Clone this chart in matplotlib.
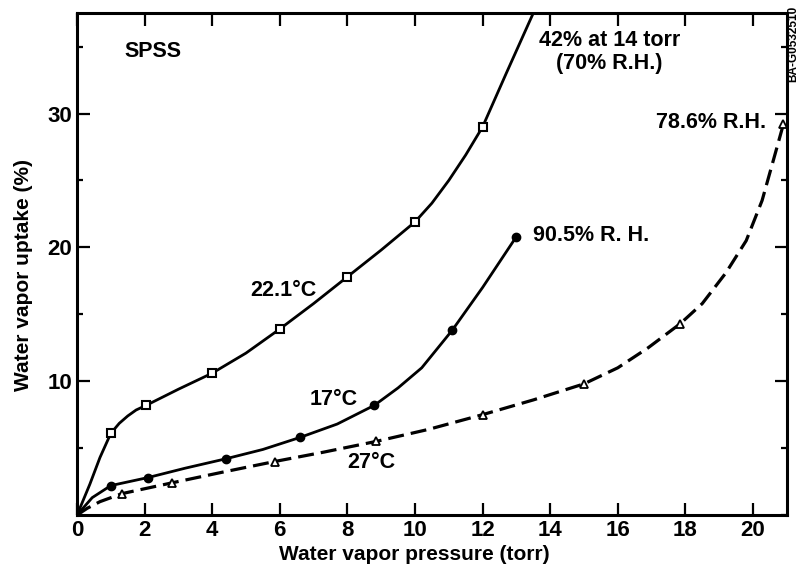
import matplotlib
matplotlib.use("Agg")
import matplotlib.pyplot as plt
from matplotlib.ticker import MultipleLocator

plt.rcParams["font.family"] = ["Liberation Sans", "DejaVu Sans"]
plt.rcParams["font.weight"] = "bold"
plt.rcParams["axes.labelweight"] = "bold"

# 22.1 C curve and its measured points
x_221 = [0, 0.15, 0.38, 0.68, 1.0, 1.25, 1.5, 1.75, 2.05, 3.0, 4.0, 5.0, 6.0, 7.0, 8.0, 9.0, 10.0, 10.5, 11.0, 11.5, 12.0, 12.7, 13.5]
y_221 = [0, 0.9, 2.3, 4.3, 6.1, 6.85, 7.4, 7.85, 8.2, 9.4, 10.6, 12.1, 13.9, 15.8, 17.8, 19.8, 21.9, 23.3, 25.0, 26.9, 29.0, 33.0, 37.5]
mx_221 = [1.0, 2.05, 4.0, 6.0, 8.0, 10.0, 12.0]
my_221 = [6.1, 8.2, 10.6, 13.9, 17.8, 21.9, 29.0]

# 17 C
x_17 = [0, 0.45, 1.0, 2.1, 3.2, 4.4, 5.5, 6.6, 7.7, 8.8, 9.5, 10.2, 11.1, 12.0, 12.5, 13.0]
y_17 = [0, 1.3, 2.2, 2.8, 3.5, 4.2, 4.9, 5.8, 6.8, 8.2, 9.5, 11.0, 13.8, 17.0, 18.9, 20.8]
mx_17 = [1.0, 2.1, 4.4, 6.6, 8.8, 11.1, 13.0]
my_17 = [2.2, 2.8, 4.2, 5.8, 8.2, 13.8, 20.8]

# 27 C
x_27 = [0, 0.3, 0.68, 1.33, 2.8, 4.3, 5.85, 7.3, 8.85, 10.4, 12.0, 13.5, 15.0, 16.0, 16.9, 17.85, 18.5, 19.2, 19.8, 20.27, 20.68, 20.9]
y_27 = [0, 0.5, 1.0, 1.6, 2.4, 3.2, 4.0, 4.7, 5.5, 6.4, 7.5, 8.6, 9.8, 11.0, 12.5, 14.3, 15.8, 18.1, 20.5, 23.5, 27.2, 29.2]
mx_27 = [1.33, 2.8, 5.85, 8.85, 12.0, 15.0, 17.85, 20.9]
my_27 = [1.6, 2.4, 4.0, 5.5, 7.5, 9.8, 14.3, 29.2]

x_ticks = list(range(0, 21, 2))
y_ticks = [10, 20, 30]

fig = plt.figure(figsize=(8.02, 5.71), dpi=100)
ax = fig.add_axes([0.096, 0.098, 0.885, 0.879])

ax.plot(x_221, y_221, color="black", lw=2.0, solid_joinstyle="round")
ax.plot(mx_221, my_221, ls="none", marker="s", ms=5.8, mfc="white", mec="black", mew=1.5)

ax.plot(x_17, y_17, color="black", lw=2.0, solid_joinstyle="round")
ax.plot(mx_17, my_17, ls="none", marker="o", ms=6, color="black")

ax.plot(x_27, y_27, color="black", lw=2.3, ls=(0, (5, 2.2)))
ax.plot(mx_27, my_27, ls="none", marker="^", ms=5.5, mfc="white", mec="black", mew=1.3)

ax.set_xlim(0, 21)
ax.set_ylim(0, 37.5)
ax.set_xticks(x_ticks)
ax.set_yticks(y_ticks)
ax.yaxis.set_minor_locator(MultipleLocator(5))
ax.tick_params(which="both", direction="in", top=True, right=True, width=1.6, labelsize=16)
ax.tick_params(which="major", length=9)
ax.tick_params(which="minor", length=4)
for s in ax.spines.values():
    s.set_linewidth(2.2)

ax.set_xlabel("Water vapor pressure (torr)", fontsize=15)
ax.set_ylabel("Water vapor uptake (%)", fontsize=15)
ax.xaxis.set_label_coords(0.475, -0.06)
ax.yaxis.set_label_coords(-0.062, 0.478)

fs = 15.5
ax.text(1.4, 34.6, "SPSS", fontsize=fs, va="center")
ax.text(6.1, 16.8, "22.1\u00b0C", fontsize=fs, ha="center", va="center")
ax.text(7.6, 8.6, "17\u00b0C", fontsize=fs, ha="center", va="center")
ax.text(8.7, 3.9, "27\u00b0C", fontsize=fs, ha="center", va="center")
ax.text(13.5, 20.9, "90.5% R. H.", fontsize=fs, va="center")
ax.text(15.76, 34.6, "42% at 14 torr\n(70% R.H.)", fontsize=fs, ha="center", va="center",
        linespacing=1.15)
ax.text(20.4, 29.3, "78.6% R.H.", fontsize=fs, ha="right", va="center")
fig.text(0.997, 0.99, "BA-G0532510", fontsize=8.5, rotation=90, ha="right", va="top")

fig.savefig("out.png", dpi=100)
